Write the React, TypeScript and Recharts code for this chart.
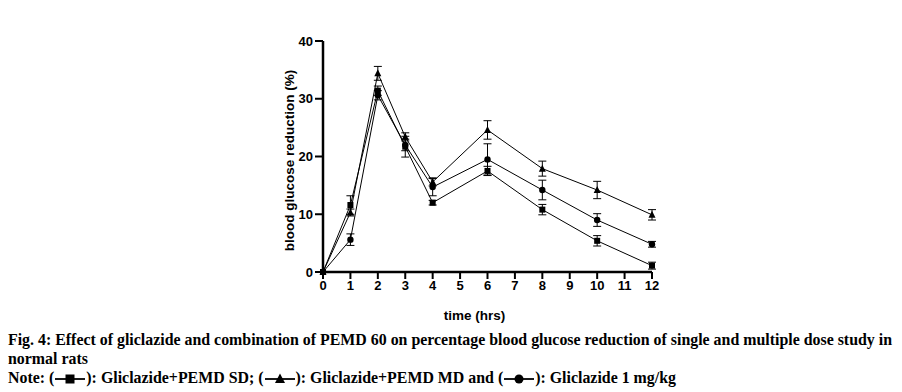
import React from 'react';
import { LineChart, Line, XAxis, YAxis, ErrorBar, Label } from 'recharts';

const times = [0, 1, 2, 3, 4, 6, 8, 10, 12];
const sdValues = [0, 11.6, 31.4, 21.7, 12.0, 17.5, 10.8, 5.4, 1.1];
const sdErrors = [0, 1.6, 0.8, 1.8, 0.4, 0.8, 0.9, 0.9, 0.6];
const mdValues = [0, 10.3, 34.4, 23.4, 15.6, 24.6, 17.9, 14.2, 9.9];
const mdErrors = [0, 0.6, 1.2, 0.7, 0.7, 1.6, 1.3, 1.5, 0.9];
const glValues = [0, 5.6, 30.6, 22.0, 14.7, 19.5, 14.2, 9.0, 4.8];
const glErrors = [0, 1.0, 0.8, 1.0, 1.5, 2.7, 1.7, 1.1, 0.5];
const xTicks = [0, 1, 2, 3, 4, 5, 6, 7, 8, 9, 10, 11, 12];
const yTicks = [0, 10, 20, 30, 40];

const data = times.map((t, i) => ({
  t,
  sd: sdValues[i],
  sdErr: sdErrors[i],
  md: mdValues[i],
  mdErr: mdErrors[i],
  gl: glValues[i],
  glErr: glErrors[i],
}));

const SquareDot = (props: any) => {
  const { cx, cy } = props;
  if (cx == null || cy == null) return null;
  return <rect x={cx - 3} y={cy - 3} width={6} height={6} fill="#000" />;
};
const TriDot = (props: any) => {
  const { cx, cy } = props;
  if (cx == null || cy == null) return null;
  return <polygon points={`${cx},${cy - 4} ${cx - 3.5},${cy + 3} ${cx + 3.5},${cy + 3}`} fill="#000" />;
};
const CircleDot = (props: any) => {
  const { cx, cy } = props;
  if (cx == null || cy == null) return null;
  return <circle cx={cx} cy={cy} r={3.2} fill="#000" />;
};

const tickFont = {
  fontFamily: '"Liberation Sans Narrow", "Liberation Sans", Arial, sans-serif',
  fontWeight: 700,
  fontSize: 13,
  fill: '#000',
};
const labelFont = {
  fontFamily: '"Liberation Sans", Arial, sans-serif',
  fontWeight: 700,
  fontSize: 13.5,
  fill: '#000',
};

const Sym = ({ kind }: { kind: string }) => (
  <svg width={32} height={12} style={{ verticalAlign: 'middle' }}>
    <line x1={1} y1={6} x2={31} y2={6} stroke="#000" strokeWidth={1.8} />
    {kind === 'sq' && <rect x={11.5} y={1.5} width={9} height={9} fill="#000" />}
    {kind === 'tri' && <polygon points="16,0.5 11,10 21,10" fill="#000" />}
    {kind === 'ci' && <circle cx={16} cy={6} r={4.5} fill="#000" />}
  </svg>
);

export default function App() {
  return (
    <div style={{ position: 'absolute', left: 0, top: 0, width: 902, height: 392, background: '#fff' }}>
      <LineChart
        width={902}
        height={330}
        data={data}
        margin={{ top: 41, right: 250, left: 283, bottom: 28 }}
      >
        <XAxis
          dataKey="t"
          type="number"
          domain={[0, 12]}
          ticks={xTicks}
          interval={0}
          tick={tickFont}
          tickSize={7}
          height={30}
          axisLine={{ stroke: '#000', strokeWidth: 2.5 }}
          tickLine={{ stroke: '#000', strokeWidth: 2 }}
        >
          <Label value="time (hrs)" position="bottom" offset={8} dx={-13} style={labelFont} />
        </XAxis>
        <YAxis
          type="number"
          domain={[0, 40]}
          ticks={yTicks}
          interval={0}
          tick={tickFont}
          tickSize={8}
          width={40}
          axisLine={{ stroke: '#000', strokeWidth: 2.5 }}
          tickLine={{ stroke: '#000', strokeWidth: 2 }}
        >
          <Label
            value="blood glucose reduction (%)"
            angle={-90}
            position="insideLeft"
            offset={0}
            style={{ ...labelFont, textAnchor: 'middle' }}
            dx={6}
            dy={4}
          />
        </YAxis>
        <Line dataKey="md" stroke="#000" strokeWidth={1} dot={<TriDot />} isAnimationActive={false}>
          <ErrorBar dataKey="mdErr" width={4} stroke="#000" strokeWidth={1} direction="y" />
        </Line>
        <Line dataKey="gl" stroke="#000" strokeWidth={1} dot={<CircleDot />} isAnimationActive={false}>
          <ErrorBar dataKey="glErr" width={4} stroke="#000" strokeWidth={1} direction="y" />
        </Line>
        <Line dataKey="sd" stroke="#000" strokeWidth={1} dot={<SquareDot />} isAnimationActive={false}>
          <ErrorBar dataKey="sdErr" width={4} stroke="#000" strokeWidth={1} direction="y" />
        </Line>
      </LineChart>
      <div
        style={{
          position: 'absolute',
          left: 8,
          top: 330,
          width: 893,
          fontFamily: '"Liberation Serif", "Times New Roman", serif',
          fontWeight: 700,
          fontSize: 15.9,
          lineHeight: '19px',
          color: '#000',
        }}
      >
        <div>Fig. 4: Effect of gliclazide and combination of PEMD 60 on percentage blood glucose reduction of single and multiple dose study in normal rats</div>
        <div>
          Note: (<Sym kind="sq" />): Gliclazide+PEMD SD; (<Sym kind="tri" />): Gliclazide+PEMD MD and (<Sym kind="ci" />): Gliclazide 1 mg/kg
        </div>
      </div>
    </div>
  );
}
